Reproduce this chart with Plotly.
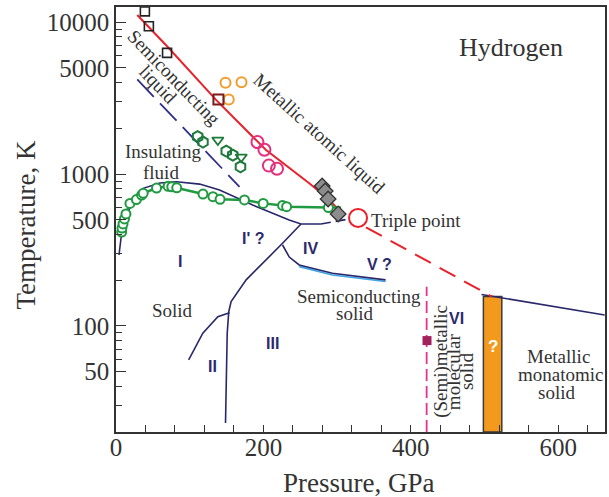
import math
import plotly.graph_objects as go

# ---------------- data (pressure GPa, temperature K) ----------------
red_melt_p = [28.8, 69.3, 136.1, 163.1, 203.6, 262.2, 286.9, 307.2]
red_melt_t = [11170, 6950, 3070, 2265, 1439, 869, 692, 551]

red_dash_p = [339.2, 509.9]
red_dash_t = [446, 156]

navy_high_p = [496, 663]
navy_high_t = [161, 118]

blue_dash_p = [28.8, 167.6]
blue_dash_t = [4200, 824]

phaseI_p = [4.1, 6.8, 12.2, 20.3, 36.9, 59.5, 82, 113.5, 140.5, 185.5, 235, 251, 278]
phaseI_t = [293, 379, 498, 625, 805, 873, 890, 859, 785, 625, 498, 469, 469]

phaseI_dash_p = [278, 316.2]
phaseI_dash_t = [469, 506]

line_I_III_p = [251, 226, 176.6, 156.2, 153, 150.9, 148.6]
line_I_III_t = [469, 350, 201, 144.5, 124, 89.5, 22.9]

line_II_p = [154, 138.2, 117.8, 98.6]
line_II_t = [122, 115, 89.6, 59.7]

line_IV_p = [226, 235.1, 248.6, 293.6, 365.8]
line_IV_t = [341, 284, 252, 222, 201]

melt_p = [7.7, 8.1, 9.5, 11.5, 13.5, 18.9, 27.7, 34.7, 36.9, 55, 70.7, 75.7, 82.4,
          118, 131.5, 141.2, 174.3, 199.7, 226, 231.5, 288.2]
melt_t = [415, 441, 469, 506, 546, 641, 679, 727, 747, 809, 830, 825, 812,
          738, 710, 682, 675, 641, 621, 610, 602]
melt_line_end_p = 305.4
melt_line_end_t = 602

hex_p = [110.8, 118, 149.6, 158.5, 168.9]
hex_t = [1766, 1626, 1416, 1333, 1117]

tri_p = [138.2, 169.9]
tri_t = [1675, 1294]

magenta_p = [191.9, 201.4, 207.4, 218.5]
magenta_t = [1625, 1445, 1137, 1085]

orange_p = [148.6, 170.3, 153]
orange_t = [3990, 4030, 3100]

sq_black_p = [39.2, 44.6, 69.3]
sq_black_t = [11800, 9420, 6280]

sq_red_p = [139]
sq_red_t = [3100]

diamond_p = [279.7, 283.8, 287.8, 301.4]
diamond_t = [834, 773, 685, 546]

triple_p = [328.4]
triple_t = [514]

vline_p = [421.5, 421.5]
vline_t = [20, 181]
vsq_p = [422]
vsq_t = [80]

bar_p = [498.5, 523.5]
bar_t = [20, 156]

x_tick_vals = [0, 200, 400, 600]
y_tick_vals = [50, 100, 500, 1000, 5000, 10000]
y_minor_vals = [30, 40, 60, 70, 80, 90, 200, 300, 400, 600, 700, 800, 900,
                2000, 3000, 4000, 6000, 7000, 8000, 9000]

# ---------------- styles ----------------
NAVY = "#29276b"
RED = "#e8212b"
GREEN = "#1f9a40"
DGREEN = "#1c7a3a"
SERIF = "Liberation Serif, Times New Roman, serif"
SANS = "Liberation Sans, Arial, sans-serif"

fig = go.Figure()

def line(x, y, color, width, dash="solid"):
    fig.add_trace(go.Scatter(x=x, y=y, mode="lines",
                             line=dict(color=color, width=width, dash=dash),
                             hoverinfo="skip"))

# orange bar
fig.add_trace(go.Scatter(
    x=[bar_p[0], bar_p[1], bar_p[1], bar_p[0], bar_p[0]],
    y=[bar_t[0], bar_t[0], bar_t[1], bar_t[1], bar_t[0]],
    mode="lines", fill="toself", fillcolor="#f39a1e",
    line=dict(color="#3a3a3a", width=1.5), hoverinfo="skip"))

# navy phase lines
line(phaseI_p, phaseI_t, NAVY, 1.6)
line(phaseI_dash_p, phaseI_dash_t, NAVY, 1.6, dash="10px,5px")
line(line_I_III_p, line_I_III_t, NAVY, 1.6)
line(line_II_p, line_II_t, NAVY, 1.6)
line(line_IV_p[2:], [t * 0.975 for t in line_IV_t[2:]], "#3aa4e6", 1.6)
line(line_IV_p, line_IV_t, NAVY, 1.6)
line(navy_high_p, navy_high_t, NAVY, 1.6)
line(blue_dash_p, blue_dash_t, "#2f2f8a", 1.8, dash="24px,9px")

# pink vertical dashed
line(vline_p, vline_t, "#e0358c", 1.8, dash="12px,5px")
fig.add_trace(go.Scatter(x=vsq_p, y=vsq_t, mode="markers",
                         marker=dict(symbol="square", size=9, color="#a2205c"),
                         hoverinfo="skip"))

# red melting line
line(red_melt_p, red_melt_t, RED, 2)
line(red_dash_p, red_dash_t, RED, 2, dash="18px,10px")

# green melting curve
fig.add_trace(go.Scatter(
    x=melt_p + [melt_line_end_p], y=melt_t + [melt_line_end_t], mode="lines",
    line=dict(color=GREEN, width=2.5), hoverinfo="skip"))
fig.add_trace(go.Scatter(
    x=melt_p, y=melt_t, mode="markers",
    marker=dict(symbol="circle", size=9, color="white",
                line=dict(color=GREEN, width=2)), hoverinfo="skip"))

fig.add_trace(go.Scatter(x=hex_p, y=hex_t, mode="markers",
                         marker=dict(symbol="hexagon-open", size=11, color=DGREEN,
                                     line=dict(color=DGREEN, width=2)),
                         hoverinfo="skip"))
fig.add_trace(go.Scatter(x=tri_p, y=tri_t, mode="markers",
                         marker=dict(symbol="triangle-down-open", size=10, color=DGREEN,
                                     line=dict(color=DGREEN, width=1.8)),
                         hoverinfo="skip"))
fig.add_trace(go.Scatter(x=magenta_p, y=magenta_t, mode="markers",
                         marker=dict(symbol="circle-open", size=12, color="#e4307f",
                                     line=dict(color="#e4307f", width=2)),
                         hoverinfo="skip"))
fig.add_trace(go.Scatter(x=orange_p, y=orange_t, mode="markers",
                         marker=dict(symbol="circle-open", size=10, color="#f19c2c",
                                     line=dict(color="#f19c2c", width=2)),
                         hoverinfo="skip"))
fig.add_trace(go.Scatter(x=sq_black_p, y=sq_black_t, mode="markers",
                         marker=dict(symbol="square-open", size=9, color="#222",
                                     line=dict(color="#222", width=1.6)),
                         hoverinfo="skip"))
fig.add_trace(go.Scatter(x=sq_red_p, y=sq_red_t, mode="markers",
                         marker=dict(symbol="square-open", size=10, color="#7a1a1a",
                                     line=dict(color="#7a1a1a", width=2)),
                         hoverinfo="skip"))
fig.add_trace(go.Scatter(x=diamond_p, y=diamond_t, mode="markers",
                         marker=dict(symbol="diamond", size=12, color="#8c8c8c",
                                     line=dict(color="#333", width=1.3)),
                         hoverinfo="skip"))
fig.add_trace(go.Scatter(x=triple_p, y=triple_t, mode="markers",
                         marker=dict(symbol="circle", size=18, color="white",
                                     line=dict(color=RED, width=2)),
                         hoverinfo="skip"))

# ---------------- annotations ----------------
L = math.log10

def txt(s, x, y, size=19, color="#333", angle=0, font=SERIF, bold=False):
    fig.add_annotation(x=x, y=L(y), xref="x", yref="y", text=(f"<b>{s}</b>" if bold else s),
                       showarrow=False, textangle=angle,
                       font=dict(family=font, size=size, color=color),
                       xanchor="center", yanchor="middle")

txt("Hydrogen", 536, 6850, size=26)
txt("Semiconducting", 78.4, 4315, angle=46)
txt("liquid", 57.4, 3910, angle=46)
txt("Metallic atomic liquid", 276, 1860, angle=42)
txt("Insulating", 64, 1400)
txt("fluid", 61, 1030)
txt("Solid", 76, 127)
txt("Semiconducting", 330, 156)
txt("solid", 324, 120)
txt("Triple point", 407, 493)
txt("(Semi)metallic", 440, 58.2, angle=-90)
txt("molecular", 458, 50, angle=-90)
txt("solid", 475.5, 50, angle=-90)
txt("Metallic", 601, 62.8)
txt("monatomic", 603, 47.6)
txt("solid", 598, 36.4)

for s, x, y in [("I", 86.5, 264), ("I' ?", 185.5, 378), ("IV", 264.4, 324),
                ("V ?", 357, 252), ("II", 131.5, 54), ("III", 212.6, 77),
                ("VI", 462.6, 112)]:
    txt(s, x, y, size=16, color="#2b2a6c", font=SANS, bold=True)
txt("?", 511, 73, size=17, color="white", font=SANS, bold=True)

# axis titles
fig.add_annotation(x=-0.183, y=0.487, xref="paper", yref="paper", text="Temperature, K",
                   showarrow=False, textangle=-90, xanchor="center", yanchor="middle",
                   font=dict(family=SERIF, size=27, color="#333"))
fig.add_annotation(x=0.496, y=-0.12, xref="paper", yref="paper", text="Pressure, GPa",
                   showarrow=False, xanchor="center", yanchor="middle",
                   font=dict(family=SERIF, size=27, color="#333"))

fig.update_layout(
    width=609, height=497, showlegend=False,
    paper_bgcolor="white", plot_bgcolor="white",
    margin=dict(l=116, r=2, t=7, b=65),
    xaxis=dict(range=[0, 663.5], tickmode="array", tickvals=x_tick_vals,
               ticks="inside", ticklen=7, tickwidth=1.3, tickcolor="#333",
               ticklabelstandoff=-8,
               minor=dict(dtick=40, ticks="inside", ticklen=7, tickwidth=1.3,
                          tickcolor="#333", showgrid=False),
               showgrid=False, zeroline=False, showline=True, linecolor="#333",
               linewidth=1.5, mirror=True,
               tickfont=dict(family=SERIF, size=25, color="#333")),
    yaxis=dict(type="log", range=[L(20), L(12600)], tickmode="array",
               tickvals=y_tick_vals, ticktext=[str(v) for v in y_tick_vals],
               ticks="inside", ticklen=10, tickwidth=1.3, tickcolor="#333",
               minor=dict(tickmode="array", tickvals=y_minor_vals, ticks="inside",
                          ticklen=6, tickwidth=1.3, tickcolor="#333", showgrid=False),
               showgrid=False, zeroline=False, showline=True, linecolor="#333",
               linewidth=1.5, mirror=True,
               tickfont=dict(family=SERIF, size=25, color="#333")),
)

fig.write_html("out.html", config={"displayModeBar": False},
               post_script="document.body.style.margin='0';document.body.style.padding='0';")
